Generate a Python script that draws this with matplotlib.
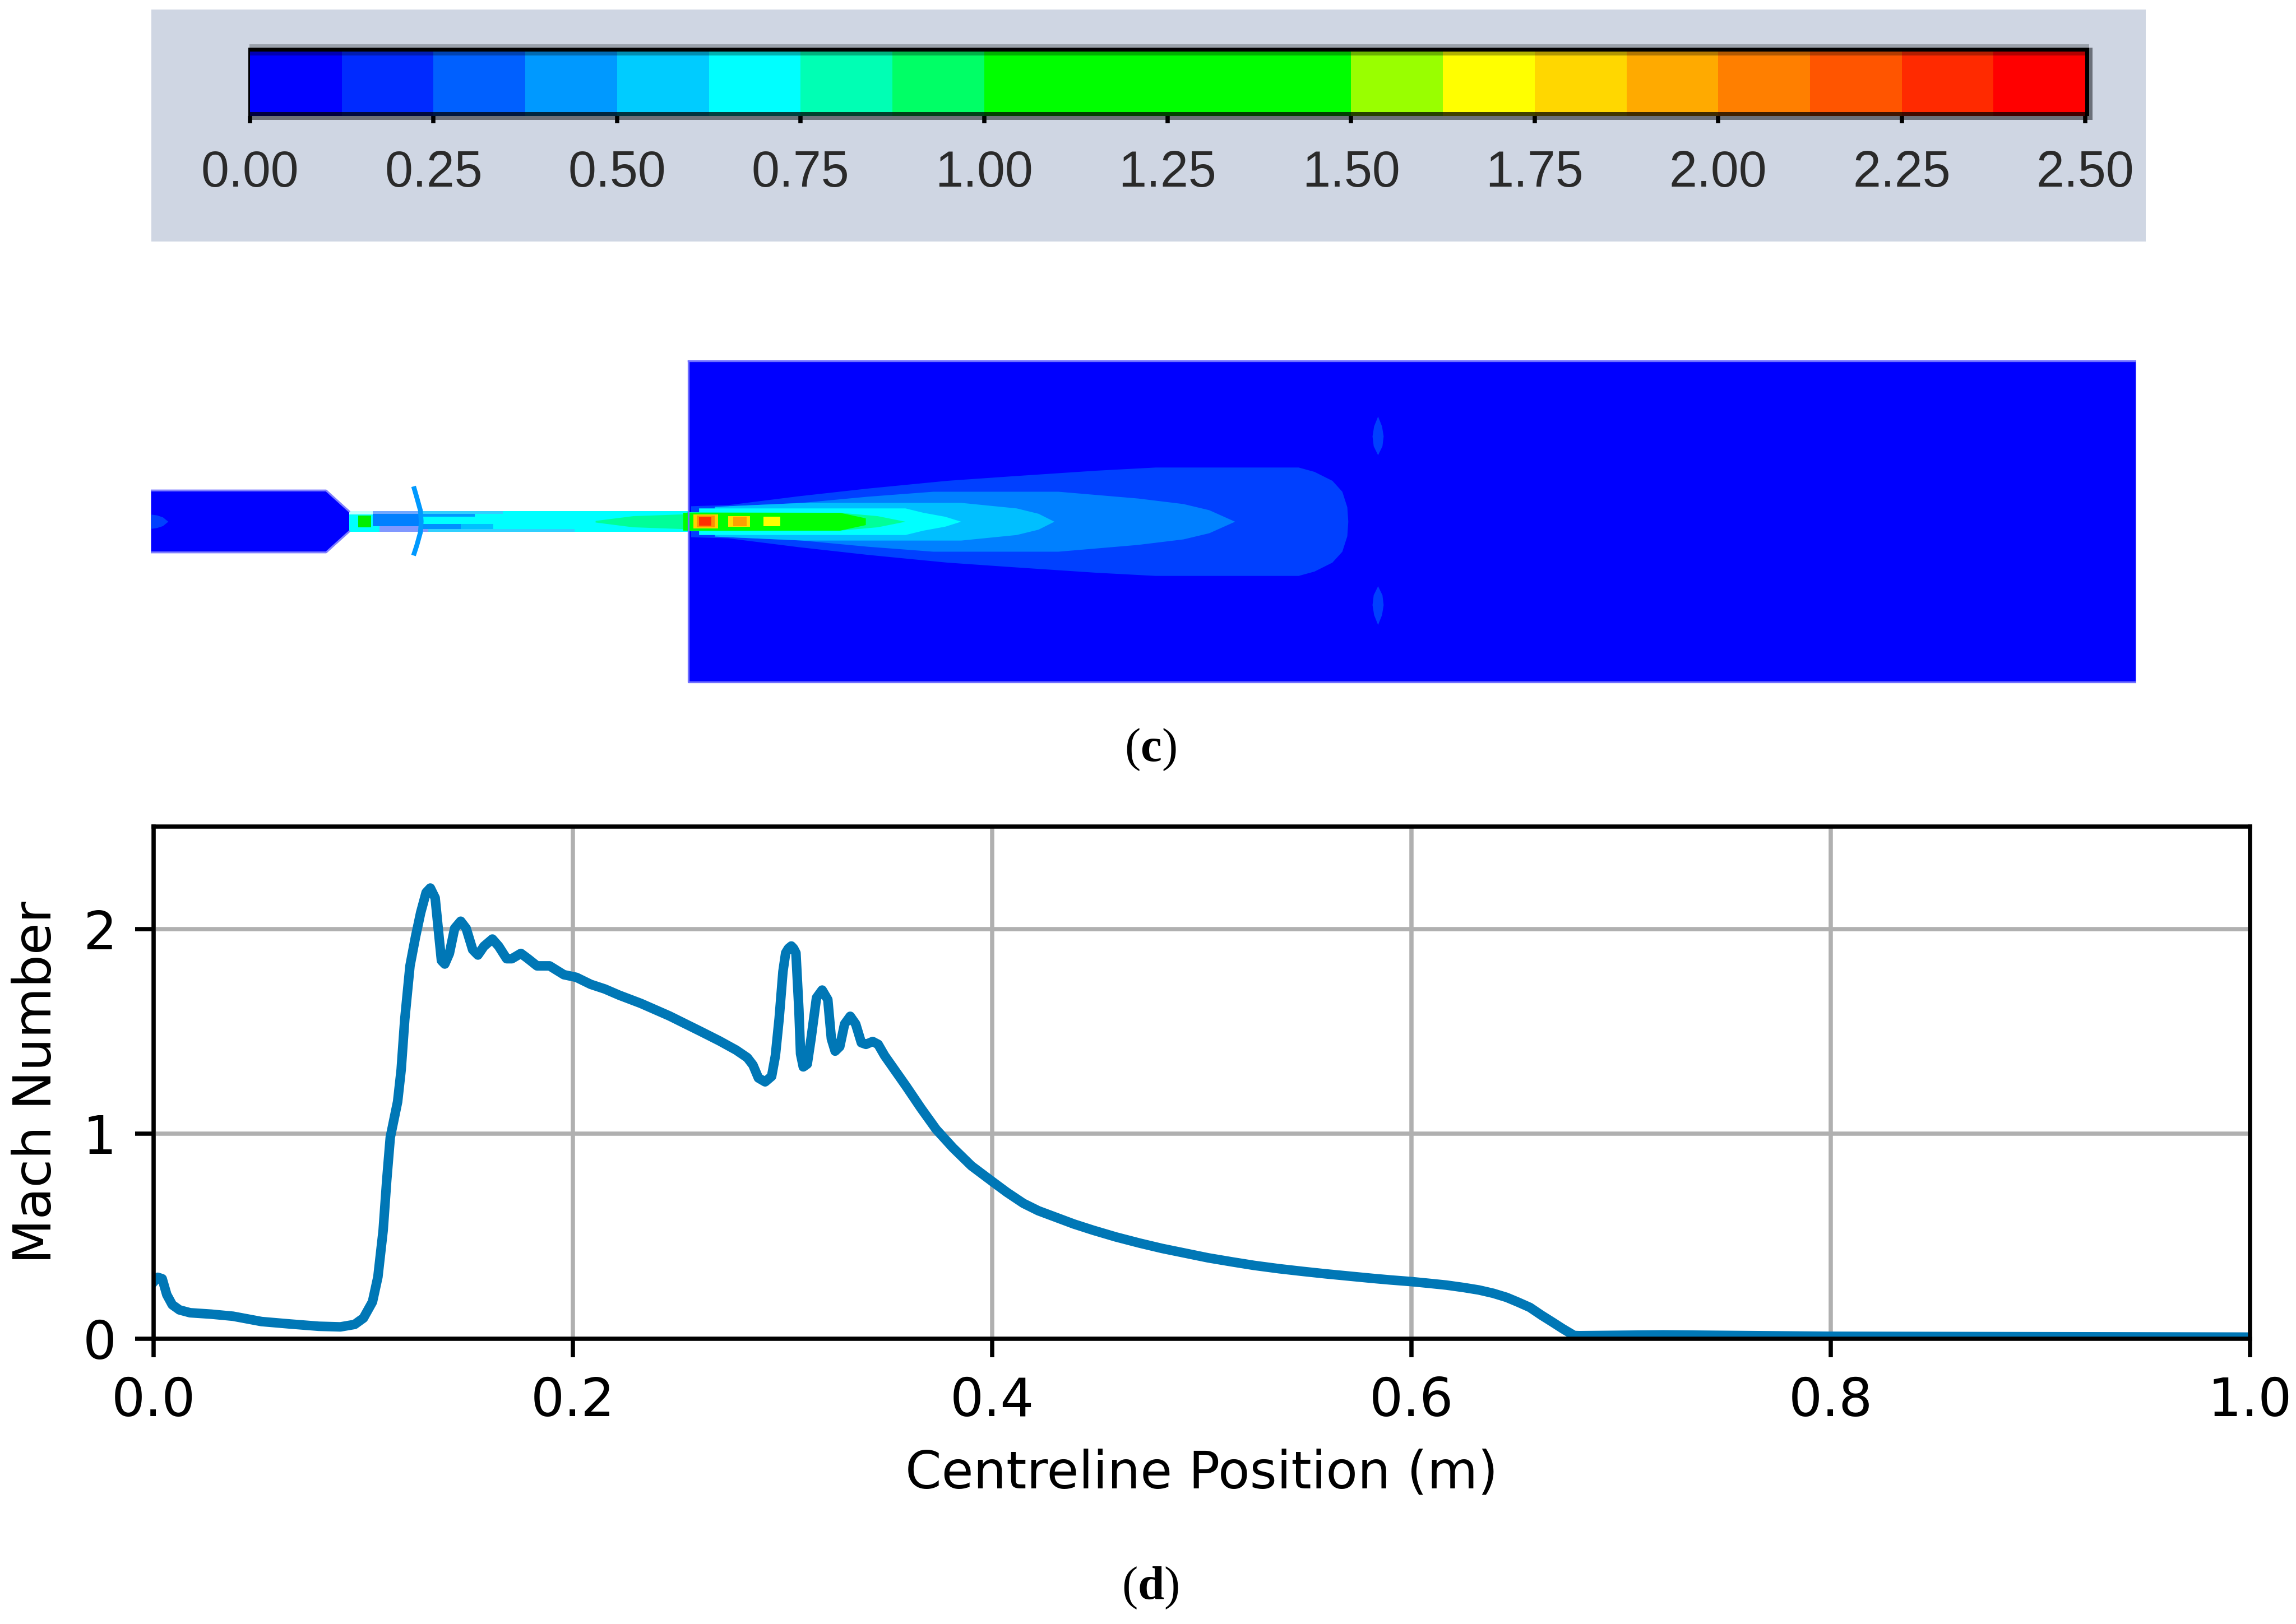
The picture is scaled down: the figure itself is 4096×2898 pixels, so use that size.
#!/usr/bin/python3

import numpy as np
import matplotlib
matplotlib.use('Agg')
import matplotlib.pyplot as plt
from matplotlib.colors import ListedColormap
from matplotlib.patches import Rectangle

W, H = 4096, 2898
DPI = 680

# colour bar
bar_levels = np.arange(20) * 0.125 + 0.0625
bar_colors = ['#0000ff', '#002aff', '#0060ff', '#0099ff', '#00ccff', '#00ffff', '#00ffb4', '#00ff66',
              '#00ff00', '#00ff00', '#00ff00', '#00ff00', '#99ff00', '#ffff00', '#ffd700', '#ffaa00',
              '#ff7f00', '#ff5500', '#ff2a00', '#ff0000']
bar_ticks = [0.0, 0.25, 0.5, 0.75, 1.0, 1.25, 1.5, 1.75, 2.0, 2.25, 2.5]
bar_ticklabels = ['0.00', '0.25', '0.50', '0.75', '1.00', '1.25', '1.50', '1.75', '2.00', '2.25', '2.50']

# contour geometry, metres from inlet
chamber_x = [0.0, 0.0883, 0.0999]
chamber_h = [0.0156, 0.0156, 0.0051]
pipe_x = [0.0999, 0.2707]
pipe_h = [0.0051, 0.0051]
box_x = [0.2707, 1.0]
box_h = [0.0808, 0.0808]

# jet plume bands (outermost first)
plume_colors = ['#0040ff', '#0080ff', '#00bfff', '#00ffff', '#00ff99', '#00ff00']
plume1_x = [.272, .291, .326, .361, .401, .434, .476, .506, .578, .586, .595, .600, .6025, .603]
plume1_h = [.0078, .0084, .0128, .0167, .0206, .0229, .0257, .0273, .0273, .0251, .0206, .0151, .0073, 0]
plume2_x = [.291, .328, .361, .394, .457, .497, .520, .533, .546]
plume2_h = [.0078, .0095, .0126, .0151, .0151, .0117, .0089, .0058, 0]
plume3_x = [.284, .329, .408, .436, .447, .455]
plume3_h = [.0075, .0095, .0095, .0067, .0040, 0]
plume4_x = [.276, .380, .389, .400, .408]
plume4_h = [.0067, .0067, .0045, .0025, 0]
plume5_x = [.270, .347, .366, .380]
plume5_h = [.0048, .0045, .0028, 0]
plume6_x = [.268, .347, .360]
plume6_h = [.0045, .0045, .0017]

# shock cells at the box inlet
cell_x = [.2733, .2750, .2762, .2908, .2932, .3086]
cell_w = [.0124, .0090, .0060, .0110, .0068, .0084]
cell_h = [.0036, .0030, .0022, .0028, .0024, .0025]
cell_colors = ['#ffd000', '#ff9000', '#ff3000', '#ffe000', '#ffa000', '#ffff00']

# throat and pipe pieces: start, end, top, bottom
piece_x0 = [.0999, .1046, .1117, .1117, .1153, .1362, .1362, .1362, .1362, .1398]
piece_x1 = [.1117, .1110, .1362, .1500, .1480, .1773, .1632, .1725, .1561, .2134]
piece_top = [.0051, .0030, .0038, .0051, -.0024, .0051, .0038, -.0012, -.0012, -.0038]
piece_bot = [.0036, -.0030, -.0024, .0038, -.0052, .0038, .0023, -.0038, -.0038, -.0052]
piece_colors = ['#c0ffff', '#00ee00', '#0080ff', '#70a8ff', '#8098ff', '#30d0ff', '#0099ff', '#00c0ff', '#0090ff', '#30d0ff']
pipe_tip_x = [.2239, .2428, .2707]
pipe_tip_h = [.0004, .0028, .0038]

shock_x = [.1327, .1340, .1358, .1362, .1358, .1340, .1327]
shock_y = [.0165, .0120, .0055, 0, -.0055, -.0120, -.0160]
bump_x = [0, .003, .006, .0087]
bump_h = [.0036, .0032, .0022, 0]
lens_y = [.0335, .038, .043, .048, .053]
lens_w = [0, .0022, .0028, .0020, 0]
lens_x = .618

# centreline Mach number
pos = [.0007, .002, .0041, .0063, .0089, .0123, .0174, .0276, .0379, .0515, .0652, .0788, .0891, .0959, .1001,
       .1044, .107, .1095, .1112, .1129, .1164, .1181, .1198, .1223, .1249, .1274, .13, .132, .1343, .136,
       .1373, .1389, .1411, .1436, .1465, .1491, .1522, .1547, .1576, .1616, .1646, .1684, .1709, .1752, .1786,
       .1829, .1889, .1957, .2017, .2085, .2153, .2221, .2324, .246, .261, .2699, .2779, .2832, .2859, .2885,
       .2917, .2948, .2966, .2984, .3002, .3015, .3028, .3042, .3053, .3064, .3078, .3086, .3099, .3118, .3136, .3162, .3189,
       .3216, .3233, .3251, .3273, .3296, .3323, .3349, .3376, .3398, .343, .3456, .3487, .3537, .359, .366,
       .3733, .3813, .3901, .4, .407, .4149, .422, .4304, .439, .4481, .459, .4703, .481, .4925, .503, .5146,
       .525, .5368, .548, .559, .57, .5812, .59, .6, .608, .6166, .625,
       .6322, .639, .6454, .651, .6565, .662, .6676, .672, .6776, .68, .72, .8, 1.0]
mach = [.285, .30, .293, .215, .166, .141, .127, .12, .11, .084, .072, .061, .058, .07, .101,
        .18, .302, .529, .773, .983, 1.157, 1.314, 1.558, 1.82, 1.96, 2.08, 2.178, 2.2, 2.152, 1.977,
        1.846, 1.829, 1.881, 2.003, 2.038, 2.003, 1.899, 1.873, 1.916, 1.951, 1.916, 1.855, 1.855, 1.881, 1.855,
        1.82, 1.82, 1.777, 1.764, 1.73, 1.707, 1.677, 1.637, 1.576, 1.5, 1.454, 1.409, 1.372, 1.336, 1.273,
        1.254, 1.281, 1.382, 1.564, 1.792, 1.883, 1.905, 1.917, 1.905, 1.883, 1.609, 1.391, 1.327, 1.341, 1.464, 1.664, 1.702,
        1.655, 1.464, 1.404, 1.426, 1.536, 1.574, 1.536, 1.445, 1.437, 1.451, 1.437, 1.382, 1.309, 1.232, 1.126,
        1.022, .932, .844, .768, .715, .661, .625, .593, .56, .53, .497, .467, .441, .417, .395, .375,
        .358, .342, .329, .317, .306, .295, .287, .279, .271, .262, .25,
        .238, .222, .202, .178, .153, .115, .079, .05, .016, .015, .019, .012, .008]
x_ticks = [0.0, 0.2, 0.4, 0.6, 0.8, 1.0]
y_ticks = [0, 1, 2]

plt.rcParams['mathtext.fontset'] = 'custom'
plt.rcParams['mathtext.rm'] = 'Liberation Serif'
plt.rcParams['mathtext.bf'] = 'Liberation Serif:bold'


def px_axes(fig, left, top, right, bottom):
    # axes placed by pixel edges, y counted from the top of the image
    return fig.add_axes([left / W, 1 - bottom / H, (right - left) / W, (bottom - top) / H])


def band(ax, x, h, color, **kw):
    x = np.array(x)
    h = np.array(h)
    ax.fill_between(x, -h, h, color=color, linewidth=0, **kw)


fig = plt.figure(figsize=(W / DPI, H / DPI), dpi=DPI)

# grey panel behind the colour bar, in image pixels
panel = px_axes(fig, 270, 17, 3828, 431)
panel.set_xlim(270, 3828)
panel.set_ylim(431, 17)
panel.set_facecolor('#cfd6e3')
panel.set_xticks([])
panel.set_yticks([])
for s in panel.spines.values():
    s.set_visible(False)
panel.add_patch(Rectangle((445, 79), 3282, 6, color='#9aa1ab', lw=0))
panel.add_patch(Rectangle((445, 207), 3288, 7, color='#6b7079', lw=0))
panel.add_patch(Rectangle((3727, 85), 6, 129, color='#6b7079', lw=0))
panel.add_patch(Rectangle((443, 85), 3284, 122, color='black', lw=0))

cb = px_axes(fig, 446, 92, 3720, 207)
cmap = ListedColormap(bar_colors)
cb.pcolormesh(np.linspace(0, 2.5, 21), [0, 1], bar_levels.reshape(1, -1), cmap=cmap, vmin=0, vmax=2.5)
cb.axhspan(0.94, 1.0, color='black', alpha=0.3, lw=0)
cb.axhspan(0.0, 0.06, color='black', alpha=0.75, lw=0)
cb.set_xlim(0, 2.5)
cb.set_ylim(0, 1)
cb.set_yticks([])
cb.set_xticks(bar_ticks)
cb.set_xticklabels(bar_ticklabels, family='Liberation Sans', fontsize=9.5, color='#2a2a2a')
for lab in cb.get_xticklabels():
    lab.set_x(lab.get_position()[0])
cb.tick_params(axis='x', length=1.4, width=0.8, pad=5.0)
for s in cb.spines.values():
    s.set_visible(False)

# contour view
ct = px_axes(fig, 269, 640, 3811, 1221)
ct.set_xlim(0, 1)
ct.set_ylim(-0.082, 0.082)
ct.axis('off')
band(ct, box_x, box_h, '#0000ff')
ct.plot([box_x[0], box_x[0], box_x[1], box_x[1], box_x[0]],
        [box_h[0], -box_h[0], -box_h[0], box_h[0], box_h[0]], color='#7070ff', lw=0.35)
band(ct, chamber_x, chamber_h, '#0000ff')
ct.plot(chamber_x, chamber_h, color='#8080ff', lw=0.35)
ct.plot(chamber_x, -np.array(chamber_h), color='#8080ff', lw=0.35)
band(ct, bump_x, bump_h, '#0040ff')
band(ct, pipe_x, pipe_h, '#00ffff')
for x0, x1, top, bot, col in zip(piece_x0, piece_x1, piece_top, piece_bot, piece_colors):
    ct.fill_between([x0, x1], [bot, bot], [top, top], color=col, linewidth=0)
band(ct, pipe_tip_x, pipe_tip_h, '#00ff99')
for xs, hs, col in zip([plume1_x, plume2_x, plume3_x, plume4_x, plume5_x, plume6_x],
                       [plume1_h, plume2_h, plume3_h, plume4_h, plume5_h, plume6_h], plume_colors):
    band(ct, xs, hs, col)
ct.bar(cell_x, 2 * np.array(cell_h), width=cell_w, bottom=-np.array(cell_h), align='edge', color=cell_colors, linewidth=0)
ct.plot(shock_x, shock_y, color='#0099ff', lw=0.9)
ct.fill_betweenx(lens_y, lens_x - np.array(lens_w), lens_x + np.array(lens_w), color='#0040ff', linewidth=0)
ct.fill_betweenx(-np.array(lens_y) + .001, lens_x - np.array(lens_w), lens_x + np.array(lens_w), color='#0040ff', linewidth=0)

# line plot
ax = px_axes(fig, 274, 1475, 4014, 2389)
ax.plot(pos, mach, color='#0077b6', lw=1.8, solid_joinstyle='round')
ax.set_xlim(0, 1)
ax.set_ylim(0, 2.5)
ax.set_xticks(x_ticks)
ax.set_yticks(y_ticks)
ax.grid(True)
ax.set_xlabel('Centreline Position (m)', fontsize=9.8)
ax.set_ylabel('Mach Number', fontsize=9.8)

fig.text(2052 / W, 1 - 1338 / H, r'($\mathbf{c}$)', family='Liberation Serif', fontsize=9, ha='center', va='center')
fig.text(2052 / W, 1 - 2834 / H, r'($\mathbf{d}$)', family='Liberation Serif', fontsize=9, ha='center', va='center')

fig.savefig('out.png', dpi=DPI)
plt.close(fig)
